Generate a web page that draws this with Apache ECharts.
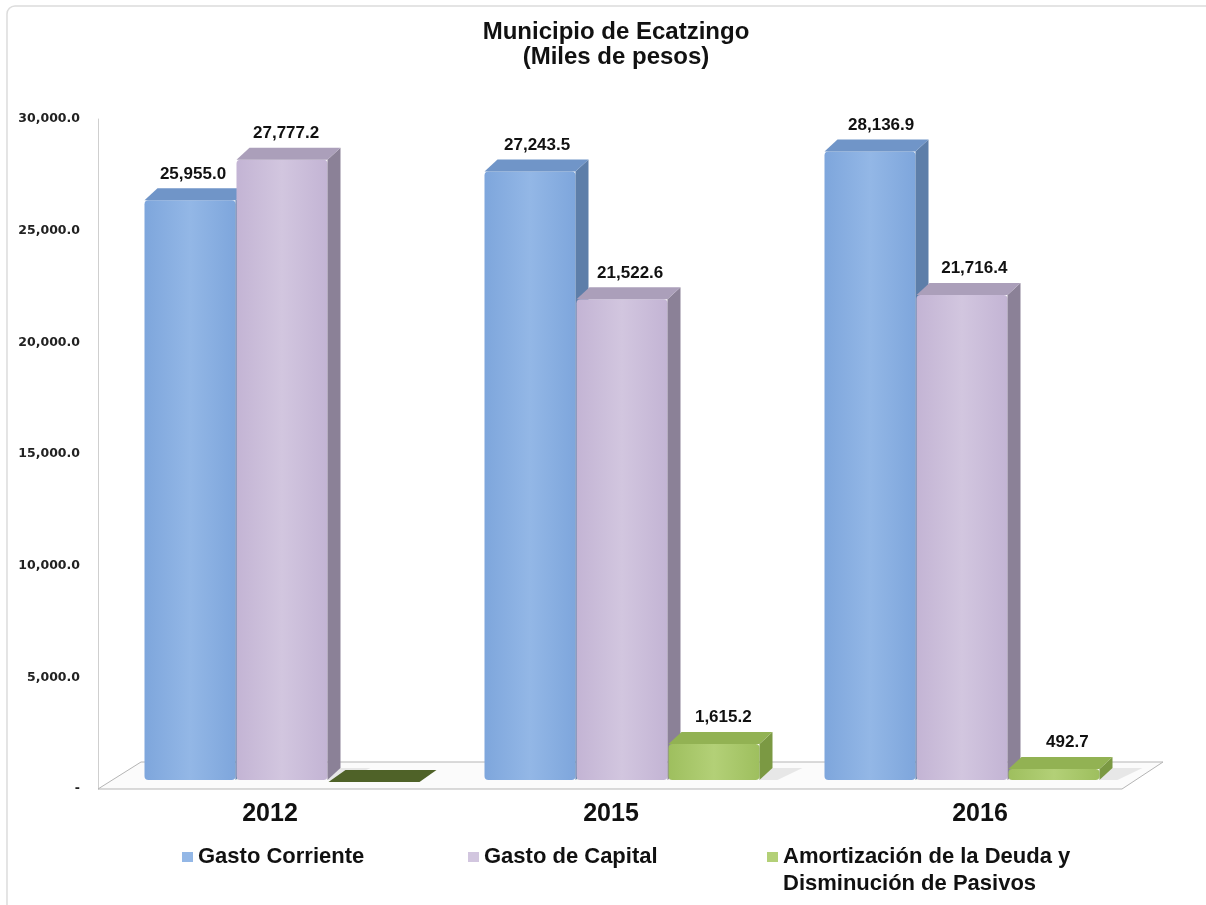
<!DOCTYPE html>
<html>
<head>
<meta charset="utf-8">
<title>Municipio de Ecatzingo</title>
<script src="https://cdn.jsdelivr.net/npm/echarts@6/dist/echarts.min.js"></script>
<style>
  html, body { margin: 0; padding: 0; background: #fff; }
  #chart { width: 1206px; height: 905px; }
</style>
</head>
<body>
<div id="chart"></div>
<script>
// datos (miles de pesos)
const categories = ["2012", "2015", "2016"];
const gastoCorriente = [25955.0, 27243.5, 28136.9];
const gastoCapital = [27777.2, 21522.6, 21716.4];
const amortizacion = [0, 1615.2, 492.7];
const seriesNames = ["Gasto Corriente", "Gasto de Capital", "Amortización de la Deuda y"];

// medidas del efecto 3D
const BAR_W = 91;
const DX = 13;
const DY = 12;
const LIFT = 9;
const OFFSETS = [-92, 0, 92];
const FONT = "Liberation Sans, Arial, sans-serif";

const palette = [
  { front: ["#7ea6dc", "#93b7e6", "#7ea6dc"], side: "#5d7ea9", top: "#7095c8" },
  { front: ["#c3b4d4", "#d2c6df", "#c3b4d4"], side: "#8b8197", top: "#ab9fba" },
  { front: ["#9ebf5e", "#b3d077", "#9ebf5e"], side: "#7b9943", top: "#92b253", zero: "#4f6228" }
];

const fmt = v => v.toLocaleString("en-US", { minimumFractionDigits: 1, maximumFractionDigits: 1 });

function render3d(idx) {
  const c = palette[idx];
  return function (params, api) {
    const ci = api.value(0);
    const v = api.value(1);
    const p0 = api.coord([ci, 0]);
    const p1 = api.coord([ci, v]);
    const cx = p0[0] + OFFSETS[idx];
    const x0 = cx - BAR_W / 2;
    const x1 = cx + BAR_W / 2;
    const yb = p0[1] - LIFT;
    const yt = p1[1] - LIFT;
    const children = [];
    if (v === 0) {
      children.push({
        type: "polygon",
        shape: { points: [[x0, yb + 2], [x1, yb + 2], [x1 + DX + 4, yb - DY + 2], [x0 + DX + 4, yb - DY + 2]] },
        style: { fill: c.zero }
      });
      return { type: "group", children };
    }
    // sombra en el piso
    children.push({
      type: "polygon",
      shape: { points: [[x1, yb], [x1 + DX, yb - DY], [x1 + DX + 30, yb - DY], [x1 + 18, yb]] },
      style: { fill: "rgba(0,0,0,0.08)" }
    });
    children.push({
      type: "rect",
      shape: { x: x0, y: yt, width: BAR_W, height: yb - yt, r: 4 },
      style: {
        fill: {
          type: "linear", x: 0, y: 0, x2: 1, y2: 0,
          colorStops: [
            { offset: 0, color: c.front[0] },
            { offset: 0.5, color: c.front[1] },
            { offset: 1, color: c.front[2] }
          ]
        }
      }
    });
    children.push({
      type: "polygon",
      shape: { points: [[x1, yt], [x1 + DX, yt - DY], [x1 + DX, yb - DY], [x1, yb]] },
      style: { fill: c.side }
    });
    children.push({
      type: "polygon",
      shape: { points: [[x0, yt], [x1, yt], [x1 + DX, yt - DY], [x0 + DX, yt - DY]] },
      style: { fill: c.top }
    });
    // etiqueta del valor
    const shift = 3 + 0.012 * (cx - 190);
    children.push({
      type: "text",
      style: {
        text: fmt(v),
        x: cx + shift,
        y: yt - DY - 6,
        align: "center",
        verticalAlign: "bottom",
        font: "bold 17px " + FONT,
        fill: "#111"
      }
    });
    return { type: "group", children };
  };
}

function renderFloor(params) {
  const cs = params.coordSys;
  const yb = cs.y + cs.height;
  const xl = cs.x - 14;
  const xr = cs.x + cs.width - 10;
  return {
    type: "polygon",
    shape: { points: [[xl, yb], [xr, yb], [xr + 41, yb - 27], [xl + 43, yb - 27]] },
    style: { fill: "#fbfbfb", stroke: "#b5b5b5", lineWidth: 1 }
  };
}

const seriesData = [gastoCorriente, gastoCapital, amortizacion];

const chart = echarts.init(document.getElementById("chart"));
chart.setOption({
  backgroundColor: "#fff",
  animation: false,
  title: {
    text: "Municipio de Ecatzingo\n(Miles de pesos)",
    left: 611,
    textAlign: "center",
    top: 15,
    textStyle: { fontFamily: FONT, fontWeight: "bold", fontSize: 24, lineHeight: 25, color: "#111" }
  },
  graphic: [
    {
      type: "rect",
      shape: { x: 7, y: 6, width: 1220, height: 920, r: 8 },
      style: { fill: "none", stroke: "#dcdcdc", lineWidth: 1.5 },
      silent: true
    },
    {
      type: "text",
      left: 783,
      top: 873,
      style: { text: "Disminución de Pasivos", font: "bold 22px " + FONT, fill: "#111" }
    }
  ],
  legend: [
    { data: [seriesNames[0]], left: 182, top: 846 },
    { data: [seriesNames[1]], left: 468, top: 846 },
    { data: [seriesNames[2]], left: 767, top: 846 }
  ].map(l => Object.assign(l, {
    padding: 0,
    itemWidth: 11,
    itemHeight: 10,
    icon: "rect",
    selectedMode: false,
    textStyle: { fontFamily: FONT, fontWeight: "bold", fontSize: 22, color: "#111" }
  })),
  grid: { left: 112, right: 74, top: 119, bottom: 116 },
  xAxis: {
    type: "category",
    data: categories,
    axisLine: { show: false },
    axisTick: { show: false },
    axisLabel: {
      margin: 13,
      formatter: (v, i) => "{c" + i + "|" + v + "}",
      rich: {
        c0: { fontFamily: FONT, fontWeight: "bold", fontSize: 25, color: "#111", padding: [0, 24, 0, 0] },
        c1: { fontFamily: FONT, fontWeight: "bold", fontSize: 25, color: "#111", padding: [0, 22, 0, 0] },
        c2: { fontFamily: FONT, fontWeight: "bold", fontSize: 25, color: "#111", padding: [0, 0, 0, 36] }
      }
    }
  },
  yAxis: {
    type: "value",
    min: 0,
    max: 30000,
    interval: 5000,
    offset: 14,
    splitLine: { show: false },
    axisLine: { show: true, lineStyle: { color: "#cfcfcf" } },
    axisTick: { show: false },
    axisLabel: {
      margin: 18,
      fontFamily: "DejaVu Sans",
      fontWeight: "bold",
      fontSize: 12.5,
      color: "#222",
      formatter: v => (v === 0 ? "-" : fmt(v))
    }
  },
  series: [
    { type: "custom", name: "piso", data: [0], renderItem: renderFloor, z: 1, silent: true, legendHoverLink: false },
    ...seriesNames.map((name, i) => ({
      type: "custom",
      name: name,
      color: palette[i].front[1],
      data: seriesData[i].map((v, k) => [k, v]),
      renderItem: render3d(i),
      encode: { x: 0, y: 1 },
      z: 2
    }))
  ]
});
</script>
</body>
</html>
